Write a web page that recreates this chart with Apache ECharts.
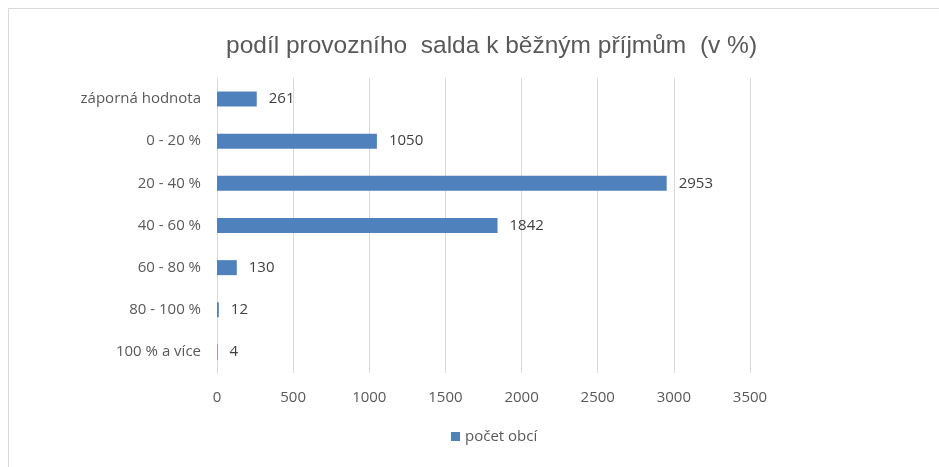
<!DOCTYPE html>
<html>
<head>
<meta charset="utf-8">
<script src="https://cdn.jsdelivr.net/npm/echarts@6/dist/echarts.min.js"></script>
<style>
  html, body { margin: 0; padding: 0; background: #fff; }
  #chart { width: 939px; height: 467px; }
</style>
</head>
<body>
<div id="chart"></div>
<script>
const categories = ['záporná hodnota', '0 - 20 %', '20 - 40 %', '40 - 60 %', '60 - 80 %', '80 - 100 %', '100 % a více'];
const counts = [261, 1050, 2953, 1842, 130, 12, 4];
const seriesName = 'počet obcí';

const chart = echarts.init(document.getElementById('chart'));
const textColor = '#595959';
const font = '"Open Sans", "DejaVu Sans", sans-serif';

chart.setOption({
  animation: false,
  textStyle: { fontFamily: font },
  title: {
    text: 'podíl provozního  salda k běžným příjmům  (v %)',
    left: 221,
    top: 29,
    textStyle: { fontSize: 24.5, fontWeight: 'normal', color: textColor, fontFamily: '"Liberation Sans", Arial, sans-serif' }
  },
  graphic: [{
    type: 'rect',
    shape: { x: 8.5, y: 8.5, width: 940, height: 470 },
    style: { fill: 'none', stroke: '#d9d9d9', lineWidth: 1 },
    silent: true
  }],
  legend: {
    bottom: 18,
    left: 446,
    itemWidth: 9,
    itemHeight: 9,
    itemGap: 4,
    icon: 'rect',
    textStyle: { fontSize: 15, color: textColor },
    data: [seriesName]
  },
  grid: { left: 217, right: 189, top: 78, bottom: 94 },
  xAxis: {
    type: 'value',
    min: 0,
    max: 3500,
    interval: 500,
    axisLine: { show: false },
    axisTick: { show: false },
    axisLabel: { color: textColor, fontSize: 15, margin: 17, formatter: v => String(v) },
    splitLine: { lineStyle: { color: '#d9d9d9' } }
  },
  yAxis: {
    type: 'category',
    inverse: true,
    data: categories,
    axisLine: { show: true, lineStyle: { color: '#d9d9d9' } },
    axisTick: { show: false },
    axisLabel: { color: textColor, fontSize: 15, margin: 16 }
  },
  series: [{
    name: seriesName,
    type: 'bar',
    data: counts,
    barWidth: 15,
    itemStyle: { color: '#4F81BD' },
    label: {
      show: true,
      position: 'right',
      distance: 12,
      color: '#404040',
      fontSize: 15
    }
  }]
});
</script>
</body>
</html>
